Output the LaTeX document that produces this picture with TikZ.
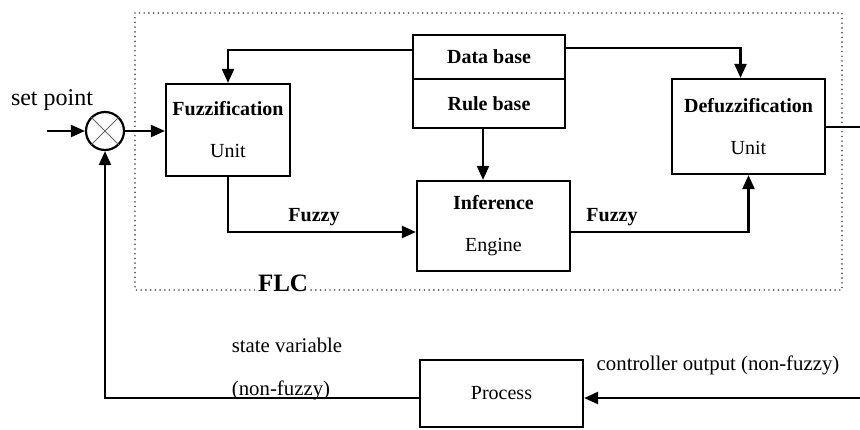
\documentclass[tikz,border=0pt]{standalone}
\usepackage{fontspec}
\setmainfont{Liberation Serif}
\usetikzlibrary{arrows.meta,calc}

\begin{document}
\begin{tikzpicture}[x=0.5pt,y=-0.5pt,
  wire/.style={line width=1.1pt},
  flow/.style={wire,-{Triangle[length=7pt,width=6pt]}},
  blockbox/.style={draw,line width=1.1pt,align=center,inner sep=0pt,
    font=\fontsize{10pt}{21pt}\selectfont},
  lbl/.style={font=\fontsize{10.4pt}{12pt}\selectfont,inner sep=0pt},
  flcframe/.style={line width=0.9pt,dash pattern=on 0.01pt off 2.35pt,line cap=round,black!65}]
\useasboundingbox (0,0) rectangle (860,429);

% FLC frame
\draw[flcframe] (135,13) rectangle (842,290);
\node[font=\bfseries\fontsize{12.5pt}{14pt}\selectfont,fill=white,inner sep=1pt] (flc) at (283,283) {FLC};

% summing junction
\node[draw,circle,line width=1.1pt,minimum size=19pt,inner sep=0pt] (sum) at (105,131) {};
\draw[line width=0.4pt,black!60] (sum.45) -- (sum.225) (sum.135) -- (sum.315);
\node[font=\fontsize{12pt}{14pt}\selectfont,inner sep=0pt] (sp) at (52,100) {set point};
\coordinate (spin) at (47,131);

% blocks
\node[blockbox,minimum width=62pt,minimum height=46pt] (fuzz) at (228,130)
  {\textbf{Fuzzification}\\Unit};
\node[blockbox,minimum width=76pt,minimum height=22pt] (db) at (489,57) {\textbf{Data base}};
\node[blockbox,minimum width=76pt,minimum height=24.5pt] (rb) at (489,103.5) {\textbf{Rule base}};
\node[blockbox,minimum width=76.5pt,minimum height=47.5pt] (defuzz) at (748.5,126.5)
  {\textbf{Defuzzification}\\Unit};
\node[blockbox,minimum width=76.5pt,minimum height=45pt] (inf) at (493.5,226)
  {\textbf{Inference}\\Engine};
\node[blockbox,minimum width=81.5pt,minimum height=33.5pt] (proc) at (501.5,393.5) {Process};

% signal labels
\node[lbl,font=\bfseries\fontsize{10pt}{12pt}\selectfont] (fz1) at (314,217) {Fuzzy};
\node[lbl,font=\bfseries\fontsize{10pt}{12pt}\selectfont] (fz2) at (612,217) {Fuzzy};
\node[lbl] (sv1) at (287,345) {state variable};
\node[lbl] (sv2) at (281,390) {(non-fuzzy)};
\node[lbl] (co) at (718,365) {controller output (non-fuzzy)};

% free ends at the right edge
\coordinate (outa) at (860,127);
\coordinate (outb) at (860,398);
\coordinate (fb) at (105,398);

% connectors
\draw[flow] (spin) -- (sum.west);
\draw[flow] (sum.east) -- (sum.east -| fuzz.west);
\draw[flow] (db.west |- 0,50) -| (fuzz.north);
\draw[flow] (db.east |- 0,48) -| ([xshift=-4pt]defuzz.north);
\draw[flow] (483,0 |- rb.south) -- (483,0 |- inf.north);
\draw[flow] (fuzz.south) |- ([yshift=-3pt]inf.west);
\draw[flow] ([yshift=-3pt]inf.east) -| (defuzz.south);
\draw[wire] (defuzz.east |- outa) -- (outa);
\draw[flow] (outb) -- (outb -| proc.east);
\draw[flow] (outb -| proc.west) -- (fb) -- (sum.south);
\end{tikzpicture}
\end{document}
